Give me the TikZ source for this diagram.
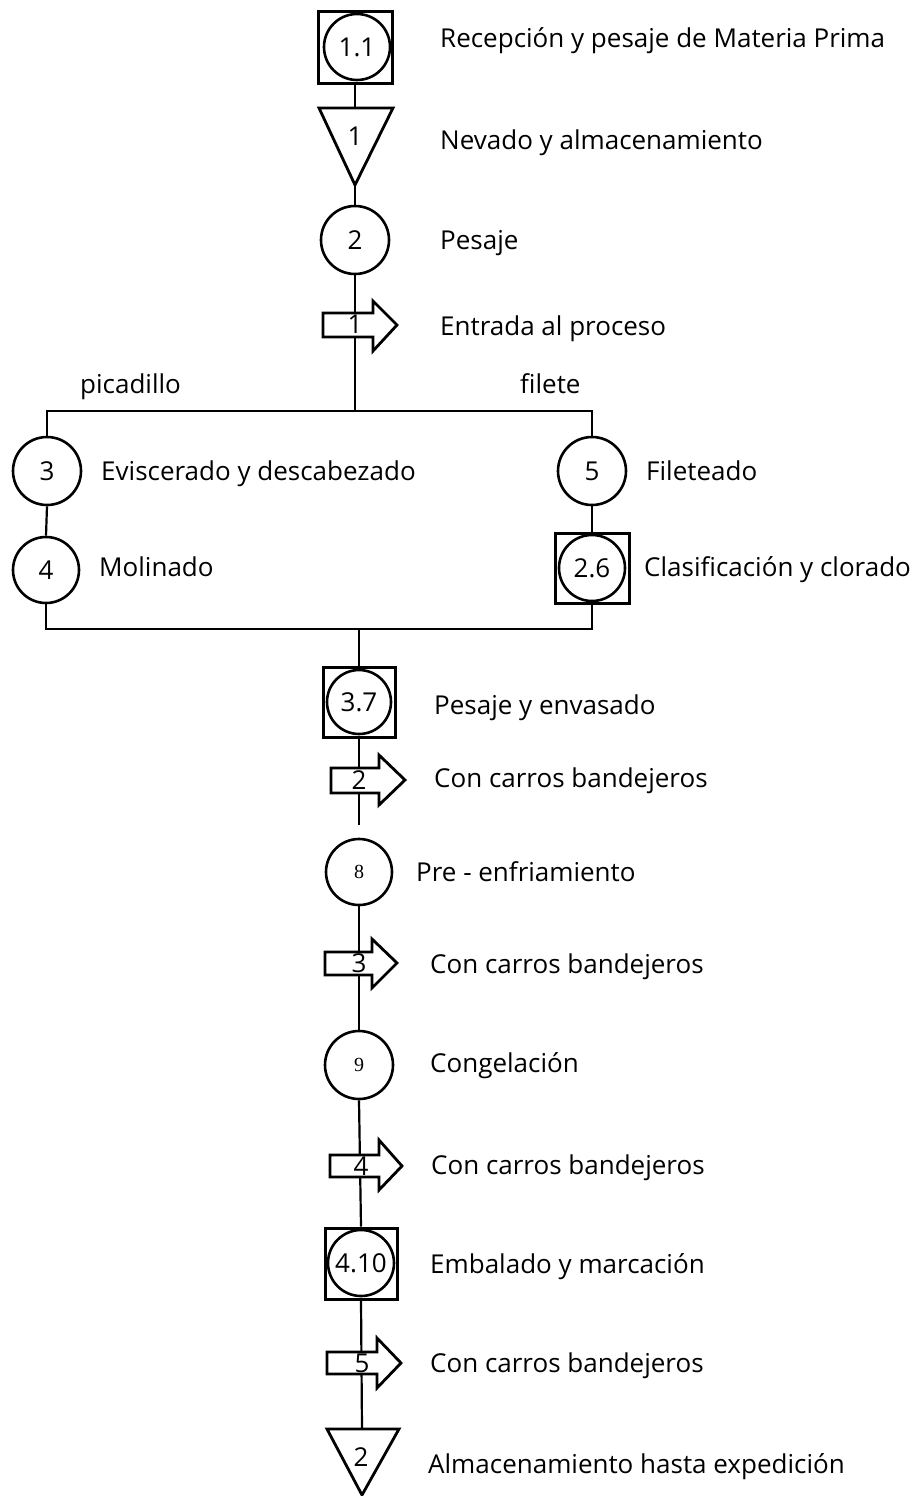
\documentclass[tikz,border=0pt]{standalone}
\usepackage{fontspec}
\setmainfont{Open Sans}
\newfontfamily\numserif{Liberation Serif}
\begin{document}
\begin{tikzpicture}[x=1pt,y=-1pt,
  circ/.style={draw, circle, line width=2.6pt, inner sep=0pt, fill=white, font=\fontsize{26}{30}\selectfont, text height=18.5pt, text depth=0pt},
  sqbox/.style={draw, rectangle, line width=3pt, inner sep=0pt, fill=white},
  conn/.style={line width=2.2pt},
  arrowbox/.style={draw, line width=2.8pt, fill=white, line join=miter},
  tri/.style={draw, line width=2.8pt, fill=white, line join=miter},
  num/.style={inner sep=0pt, font=\fontsize{26}{30}\selectfont, text height=18.5pt, text depth=0pt},
  lbl/.style={anchor=base west, inner sep=0pt, font=\fontsize{26}{30}\selectfont}]
\useasboundingbox (0,0) rectangle (915,1496);

% squares
\node[sqbox, minimum width=74pt, minimum height=71pt] (s11) at (355,47.5) {};
\node[sqbox, minimum width=74pt, minimum height=70pt] (s26) at (592,568) {};
\node[sqbox, minimum width=72pt, minimum height=70pt] (s37) at (359,702) {};
\node[sqbox, minimum width=72pt, minimum height=71pt] (s410) at (361,1263.5) {};

% circles
\node[circ, minimum size=66pt] (c11) at (357,47) {1.1};
\node[circ, minimum size=68pt] (c2) at (355,240) {2};
\node[circ, minimum size=68pt] (c3) at (47,471) {3};
\node[circ, minimum size=66pt] (c4) at (46,570) {4};
\node[circ, minimum size=68pt] (c5) at (592,471) {5};
\node[circ, minimum size=66pt] (c26) at (592,568) {2.6};
\node[circ, minimum size=64pt] (c37) at (359,702) {3.7};
\node[circ, minimum size=66pt, font=\numserif\fontsize{20}{24}\selectfont, text height=13pt] (c8) at (359,872) {8};
\node[circ, minimum size=68pt, font=\numserif\fontsize{20}{24}\selectfont, text height=13pt] (c9) at (359,1065) {9};
\node[circ, minimum size=66pt] (c410) at (361,1263) {4.10};

% coordinates
\coordinate (t1top) at (355,108);
\coordinate (t1apex) at (355,185);
\coordinate (jtop) at (355,411);
\coordinate (jbot) at (359,629);
\coordinate (l2end) at (359,825);
\coordinate (t2top) at (362,1429);

% connectors
\draw[conn] (s11.south) -- (t1top);
\draw[conn] (t1apex) -- (c2.north);
\draw[conn] (c2.south) -- (jtop);
\draw[conn] (jtop) -| (c3.north);
\draw[conn] (jtop) -| (c5.north);
\draw[conn] (c3.south) -- (c4.north);
\draw[conn] (c5.south) -- (s26.north);
\draw[conn] (c4.south) |- (jbot) -| (s26.south);
\draw[conn] (jbot) -- (s37.north);
\draw[conn] (s37.south) -- (l2end);
\draw[conn] (c8.south) -- (c9.north);
\draw[conn] (c9.south) -- (s410.north);
\draw[conn] (s410.south) -- (t2top);

% triangles
\draw[tri] (319,108) -- (393,108) -- (t1apex) -- cycle;
\node[num] (n1) at (355,136) {1};
\draw[tri] (327,1429) -- (399,1429) -- (362,1495) -- cycle;
\node[num] (n2) at (361,1457) {2};

% transport arrows
\draw[arrowbox] (323,313) -- (373,313) -- (373,301) -- (397,325) -- (373,351) -- (373,337) -- (323,337) -- cycle;
\node[num] (a1) at (355,324) {1};
\draw[arrowbox] (331,768) -- (379,768) -- (379,755) -- (405,780) -- (379,805) -- (379,793) -- (331,793) -- cycle;
\node[num] (a2) at (359,780) {2};
\draw[arrowbox] (325,952) -- (372,952) -- (372,939) -- (397,963) -- (372,988) -- (372,975) -- (325,975) -- cycle;
\node[num] (a3) at (359,963) {3};
\draw[arrowbox] (330,1155) -- (379,1155) -- (379,1140) -- (402,1166) -- (379,1190) -- (379,1177) -- (330,1177) -- cycle;
\node[num] (a4) at (361,1166) {4};
\draw[arrowbox] (327,1352) -- (377,1352) -- (377,1338) -- (401,1363) -- (377,1388) -- (377,1374) -- (327,1374) -- cycle;
\node[num] (a5) at (362,1363) {5};

% labels
\node[lbl] (L1) at (440,48) {Recepción y pesaje de Materia Prima};
\node[lbl] (L2) at (440,149) {Nevado y almacenamiento};
\node[lbl] (L3) at (440,249) {Pesaje};
\node[lbl] (L4) at (440,335) {Entrada al proceso};
\node[lbl] (L5) at (80,393) {picadillo};
\node[lbl] (L6) at (520,393) {filete};
\node[lbl] (L7) at (101,480) {Eviscerado y descabezado};
\node[lbl] (L8) at (646,480) {Fileteado};
\node[lbl] (L9) at (99,576) {Molinado};
\node[lbl] (L10) at (644,576) {Clasificación y clorado};
\node[lbl] (L11) at (434,714) {Pesaje y envasado};
\node[lbl] (L12) at (434,787) {Con carros bandejeros};
\node[lbl] (L13) at (416,881) {Pre - enfriamiento};
\node[lbl] (L14) at (430,973) {Con carros bandejeros};
\node[lbl] (L15) at (430,1072) {Congelación};
\node[lbl] (L16) at (431,1174) {Con carros bandejeros};
\node[lbl] (L17) at (430,1273) {Embalado y marcación};
\node[lbl] (L18) at (430,1372) {Con carros bandejeros};
\node[lbl] (L19) at (428,1473) {Almacenamiento hasta expedición};
\end{tikzpicture}
\end{document}
